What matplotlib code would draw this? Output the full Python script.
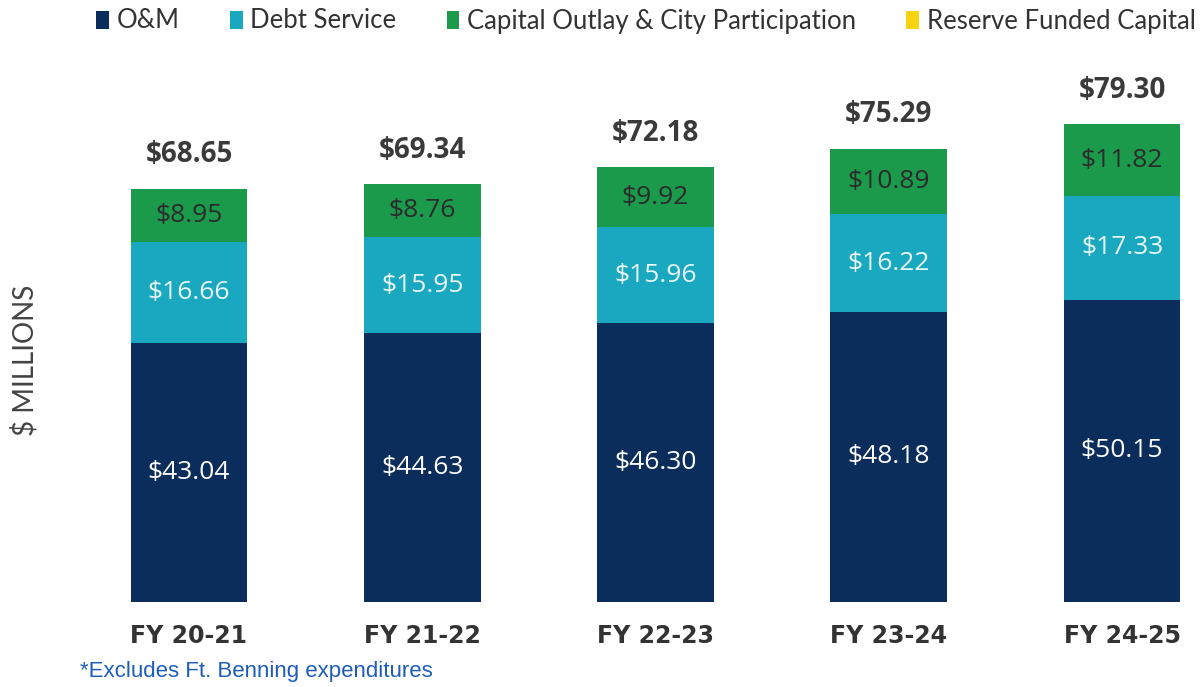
import numpy as np
import matplotlib
matplotlib.use("Agg")
import matplotlib.pyplot as plt

anos = ["FY 20-21", "FY 21-22", "FY 22-23", "FY 23-24", "FY 24-25"]
om = [43.04, 44.63, 46.30, 48.18, 50.15]
debt = [16.66, 15.95, 15.96, 16.22, 17.33]
capital = [8.95, 8.76, 9.92, 10.89, 11.82]
reserve = [0, 0, 0, 0, 0]
totais = [68.65, 69.34, 72.18, 75.29, 79.30]

cor_om = "#0b2d5b"
cor_debt = "#19a8bf"
cor_cap = "#1b9a4c"
cor_res = "#f7d311"

plt.rcParams["font.family"] = ["Lato", "DejaVu Sans"]
fonte = ["Open Sans", "DejaVu Sans"]

fig = plt.figure(figsize=(12.01, 6.87), dpi=100)
ax = fig.add_axes([49 / 1201, 85 / 687, (1192 - 49) / 1201, 542 / 687])

x = np.arange(len(anos))
w = 0.5
b1 = ax.bar(x, om, w, color=cor_om, label="O&M")
b2 = ax.bar(x, debt, w, bottom=om, color=cor_debt, label="Debt Service")
base3 = np.array(om) + np.array(debt)
b3 = ax.bar(x, capital, w, bottom=base3, color=cor_cap,
            label="Capital Outlay & City Participation")
b4 = ax.bar(x, reserve, w, bottom=base3 + np.array(capital), color=cor_res,
            label="Reserve Funded Capital")

# rotulos dentro das barras
for i in range(len(anos)):
    ax.text(x[i], om[i] / 2, f"${om[i]:.2f}", ha="center", va="center",
            color="white", fontsize=19, family=fonte)
    ax.text(x[i], om[i] + debt[i] / 2, f"${debt[i]:.2f}", ha="center",
            va="center", color="#e8f7fa", fontsize=19, family=fonte)
    ax.text(x[i], base3[i] + capital[i] / 2, f"${capital[i]:.2f}",
            ha="center", va="center", color="#2b2b2b", fontsize=19,
            family=fonte)
    ax.annotate(f"${totais[i]:.2f}", (x[i], totais[i]),
                xytext=(0, 14), textcoords="offset points",
                ha="center", va="bottom", fontsize=20, fontweight="bold",
                color="#3a3a3a", family=fonte)

ax.set_xlim(-0.6, 4.3)
ax.set_ylim(0, 90)
ax.set_xticks(x)
ax.set_xticklabels(anos, fontsize=17, fontweight="bold", color="#333333",
                   family=["DejaVu Sans"])
ax.tick_params(axis="x", length=0, pad=16)
ax.set_yticks([])
for s in ax.spines.values():
    s.set_visible(False)

fig.text(25 / 1201, 1 - 360 / 687, "$ MILLIONS", rotation=90, ha="center",
         va="center", fontsize=20, color="#444444")

fig.legend(handles=[b1, b2, b3, b4], loc="center", ncol=4,
           bbox_to_anchor=(646 / 1201, 1 - 21 / 687), frameon=False,
           fontsize=18.5, handlelength=0.5, handleheight=0.7,
           handletextpad=0.3, columnspacing=1.95, labelcolor="#333333")

fig.text(80 / 1201, 1 - 672 / 687, "*Excludes Ft. Benning expenditures",
         ha="left", va="center", fontsize=16, color="#1e5cb8",
         family=["Liberation Sans", "DejaVu Sans"])

plt.savefig("out.png", dpi=100)
